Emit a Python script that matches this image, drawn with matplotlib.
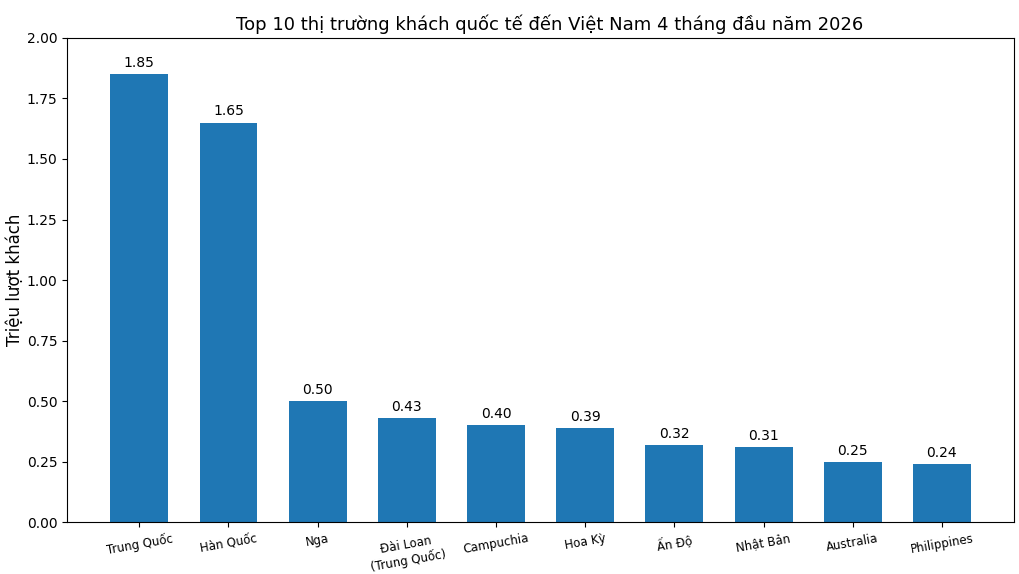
import matplotlib
matplotlib.use('Agg')
import matplotlib.pyplot as plt

markets = ['Trung Quốc', 'Hàn Quốc', 'Nga', 'Đài Loan\n(Trung Quốc)', 'Campuchia',
           'Hoa Kỳ', 'Ấn Độ', 'Nhật Bản', 'Australia', 'Philippines']
visitors = [1.85, 1.65, 0.50, 0.43, 0.40, 0.39, 0.32, 0.31, 0.25, 0.24]

fig, ax = plt.subplots(figsize=(10.2, 5.74), dpi=100)
bars = ax.bar(range(len(markets)), visitors, width=0.65, color='#1f77b4')
ax.bar_label(bars, labels=['%.2f' % v for v in visitors], padding=3, fontsize=10)

ax.set_xticks(range(len(markets)))
ax.set_xticklabels(markets, rotation=10, fontsize=8.5)
ax.set_ylim(0, 2.0)
ax.set_yticks([0, 0.25, 0.5, 0.75, 1.0, 1.25, 1.5, 1.75, 2.0])
ax.set_ylabel('Triệu lượt khách', fontsize=12)
ax.yaxis.set_label_coords(-0.046, 0.5)
ax.set_title('Top 10 thị trường khách quốc tế đến Việt Nam 4 tháng đầu năm 2026',
             fontsize=13, x=0.51)

fig.subplots_adjust(left=0.066, right=0.994, top=0.934, bottom=0.09)
fig.savefig('out.png', dpi=100)
